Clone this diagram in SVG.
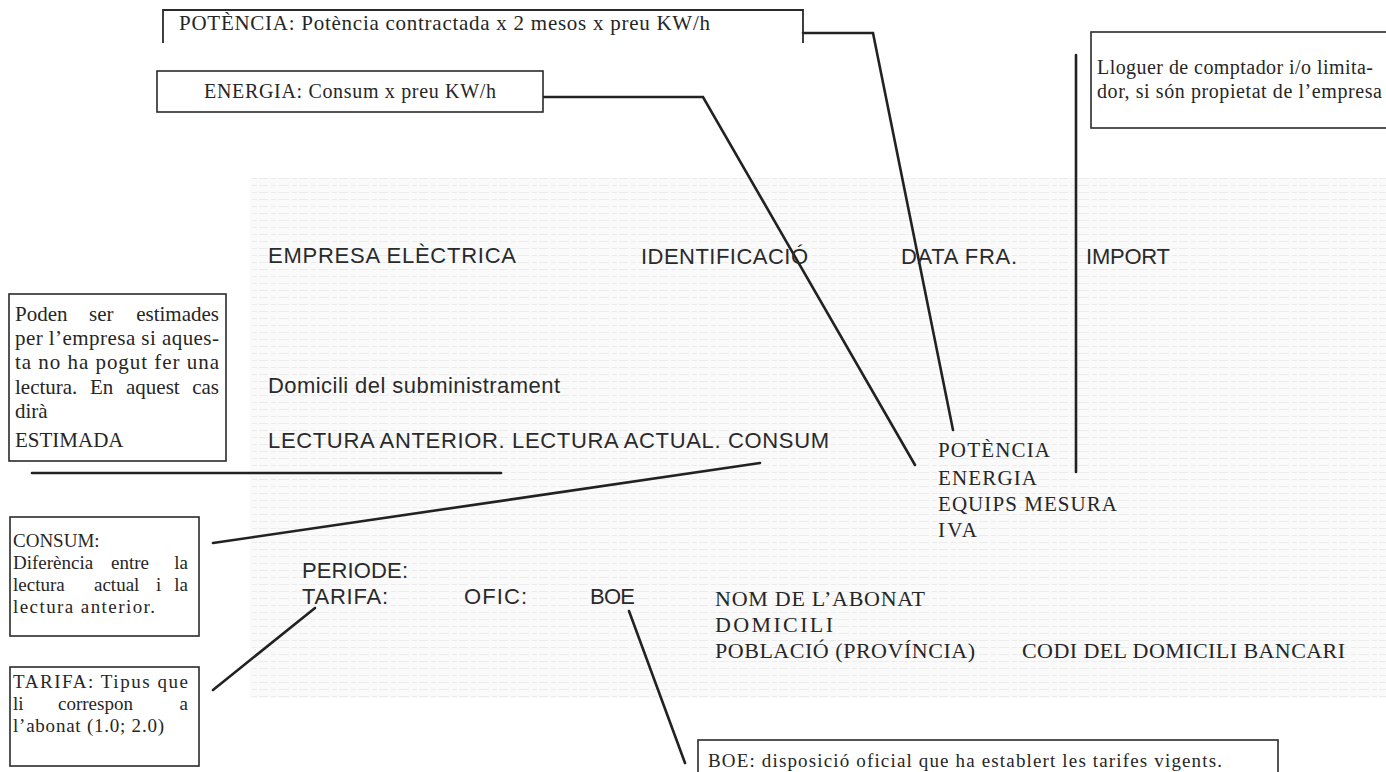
<svg xmlns="http://www.w3.org/2000/svg" width="1386" height="772" viewBox="0 0 1386 772">
<style>
  .box { fill: #ffffff; stroke: #2a2a2a; stroke-width: 1.6; }
  .open { fill: none; stroke: #2a2a2a; stroke-width: 1.8; }
  .conn { fill: none; stroke: #222222; stroke-width: 2.6; stroke-linecap: round; stroke-linejoin: miter; }
  .serif { font-family: "Liberation Serif", "Times New Roman", serif; fill: #262626; }
  .sans { font-family: "Liberation Sans", Arial, sans-serif; fill: #2a2a2a; font-size: 22px; }
  .end { text-anchor: end; }
</style>
<defs>
  <pattern id="scan" x="0" y="0" width="40" height="7" patternUnits="userSpaceOnUse">
    <rect width="40" height="7" fill="#fafafa"/>
    <line x1="0" y1="3.5" x2="40" y2="3.5" stroke="#ececec" stroke-width="1.2" stroke-dasharray="9 3 5 2"/>
  </pattern>
</defs>
<rect width="1386" height="772" fill="#ffffff"/>
<rect x="250" y="178" width="1136" height="520" fill="url(#scan)"/>

<g id="connectors">
  <polyline class="conn" points="803,33 873,33 953,430"/>
  <polyline class="conn" points="543,97 703,97 915,465"/>
  <line class="conn" x1="1076" y1="55" x2="1076" y2="472"/>
  <line class="conn" x1="32" y1="473" x2="501" y2="473"/>
  <line class="conn" x1="213" y1="543" x2="760" y2="463"/>
  <line class="conn" x1="213" y1="690" x2="315" y2="608"/>
  <line class="conn" x1="629" y1="611" x2="685" y2="763"/>
</g>

<g id="node-potencia-note">
  <path class="open" d="M163,43 V10 H803 V43"/>
  <text class="serif" x="179" y="30" font-size="21" textLength="531" lengthAdjust="spacing">POTÈNCIA: Potència contractada x 2 mesos x preu KW/h</text>
</g>

<g id="node-energia-note">
  <rect class="box" x="157" y="71" width="386" height="41"/>
  <text class="serif" x="204" y="98" font-size="20" textLength="292" lengthAdjust="spacing">ENERGIA: Consum x preu KW/h</text>
</g>

<g id="node-lloguer-note">
  <rect class="box" x="1091" y="32" width="310" height="96"/>
  <text class="serif" x="1097" y="74" font-size="20" textLength="276" lengthAdjust="spacing">Lloguer de comptador i/o limita-</text>
  <text class="serif" x="1097" y="98" font-size="20" textLength="285" lengthAdjust="spacing">dor, si són propietat de l’empresa</text>
</g>

<g id="node-estimades-note">
  <rect class="box" x="9" y="294" width="217" height="167"/>
  <text class="serif" y="321" font-size="21"><tspan x="15">Poden</tspan><tspan x="89">ser</tspan><tspan x="219" class="end">estimades</tspan></text>
  <text class="serif" x="15" y="345" font-size="21" textLength="204" lengthAdjust="spacing">per l’empresa si aques-</text>
  <text class="serif" x="15" y="369" font-size="21" textLength="204" lengthAdjust="spacing">ta no ha pogut fer una</text>
  <text class="serif" y="394" font-size="21"><tspan x="15">lectura.</tspan><tspan x="90">En</tspan><tspan x="126">aquest</tspan><tspan x="219" class="end">cas</tspan></text>
  <text class="serif" x="15" y="418" font-size="21">dirà</text>
  <text class="serif" x="15" y="447" font-size="21">ESTIMADA</text>
</g>

<g id="node-consum-note">
  <rect class="box" x="10" y="517" width="189" height="119"/>
  <text class="serif" x="13" y="547" font-size="19">CONSUM:</text>
  <text class="serif" y="569" font-size="19"><tspan x="13">Diferència</tspan><tspan x="111">entre</tspan><tspan x="188" class="end">la</tspan></text>
  <text class="serif" y="591" font-size="19"><tspan x="13">lectura</tspan><tspan x="94">actual</tspan><tspan x="156">i</tspan><tspan x="188" class="end">la</tspan></text>
  <text class="serif" x="13" y="613" font-size="19" textLength="142" lengthAdjust="spacing">lectura anterior.</text>
</g>

<g id="node-tarifa-note">
  <rect class="box" x="10" y="667" width="189" height="99"/>
  <text class="serif" x="13" y="688" font-size="19" textLength="175" lengthAdjust="spacing">TARIFA: Tipus que</text>
  <text class="serif" y="710" font-size="19"><tspan x="13">li</tspan><tspan x="58">correspon</tspan><tspan x="188" class="end">a</tspan></text>
  <text class="serif" x="13" y="732" font-size="19" textLength="151" lengthAdjust="spacing">l’abonat (1.0; 2.0)</text>
</g>

<g id="node-boe-note">
  <rect class="box" x="698" y="740" width="580" height="70"/>
  <text class="serif" x="708" y="767" font-size="19" textLength="514" lengthAdjust="spacing">BOE: disposició oficial que ha establert les tarifes vigents.</text>
</g>

<g id="node-header">
  <text class="sans" x="268" y="263" textLength="248" lengthAdjust="spacing">EMPRESA ELÈCTRICA</text>
  <text class="sans" x="641" y="264" textLength="167" lengthAdjust="spacing">IDENTIFICACIÓ</text>
  <text class="sans" x="901" y="264" textLength="116" lengthAdjust="spacing">DATA FRA.</text>
  <text class="sans" x="1086" y="264" textLength="84" lengthAdjust="spacing">IMPORT</text>
</g>

<g id="node-supply">
  <text class="sans" x="268" y="393" textLength="292" lengthAdjust="spacing">Domicili del subministrament</text>
  <text class="sans" x="268" y="448" textLength="561" lengthAdjust="spacing">LECTURA ANTERIOR. LECTURA ACTUAL. CONSUM</text>
</g>

<g id="node-concepts">
  <text class="serif" x="938" y="457" font-size="21" textLength="112" lengthAdjust="spacing">POTÈNCIA</text>
  <text class="serif" x="938" y="485" font-size="21" textLength="99" lengthAdjust="spacing">ENERGIA</text>
  <text class="serif" x="938" y="511" font-size="21" textLength="179" lengthAdjust="spacing">EQUIPS MESURA</text>
  <text class="serif" x="938" y="537" font-size="21" textLength="39" lengthAdjust="spacing">IVA</text>
</g>

<g id="node-period">
  <text class="sans" x="302" y="578" textLength="106" lengthAdjust="spacing">PERIODE:</text>
  <text class="sans" x="302" y="604" textLength="86" lengthAdjust="spacing">TARIFA:</text>
  <text class="sans" x="464" y="604" textLength="63" lengthAdjust="spacing">OFIC:</text>
  <text class="sans" x="590" y="604" textLength="45" lengthAdjust="spacing">BOE</text>
</g>

<g id="node-subscriber">
  <text class="serif" x="715" y="606" font-size="22" textLength="210" lengthAdjust="spacing">NOM DE L’ABONAT</text>
  <text class="serif" x="715" y="632" font-size="22" textLength="118" lengthAdjust="spacing">DOMICILI</text>
  <text class="serif" x="715" y="658" font-size="22" textLength="260" lengthAdjust="spacing">POBLACIÓ (PROVÍNCIA)</text>
  <text class="serif" x="1022" y="658" font-size="22" textLength="323" lengthAdjust="spacing">CODI DEL DOMICILI BANCARI</text>
</g>
</svg>
